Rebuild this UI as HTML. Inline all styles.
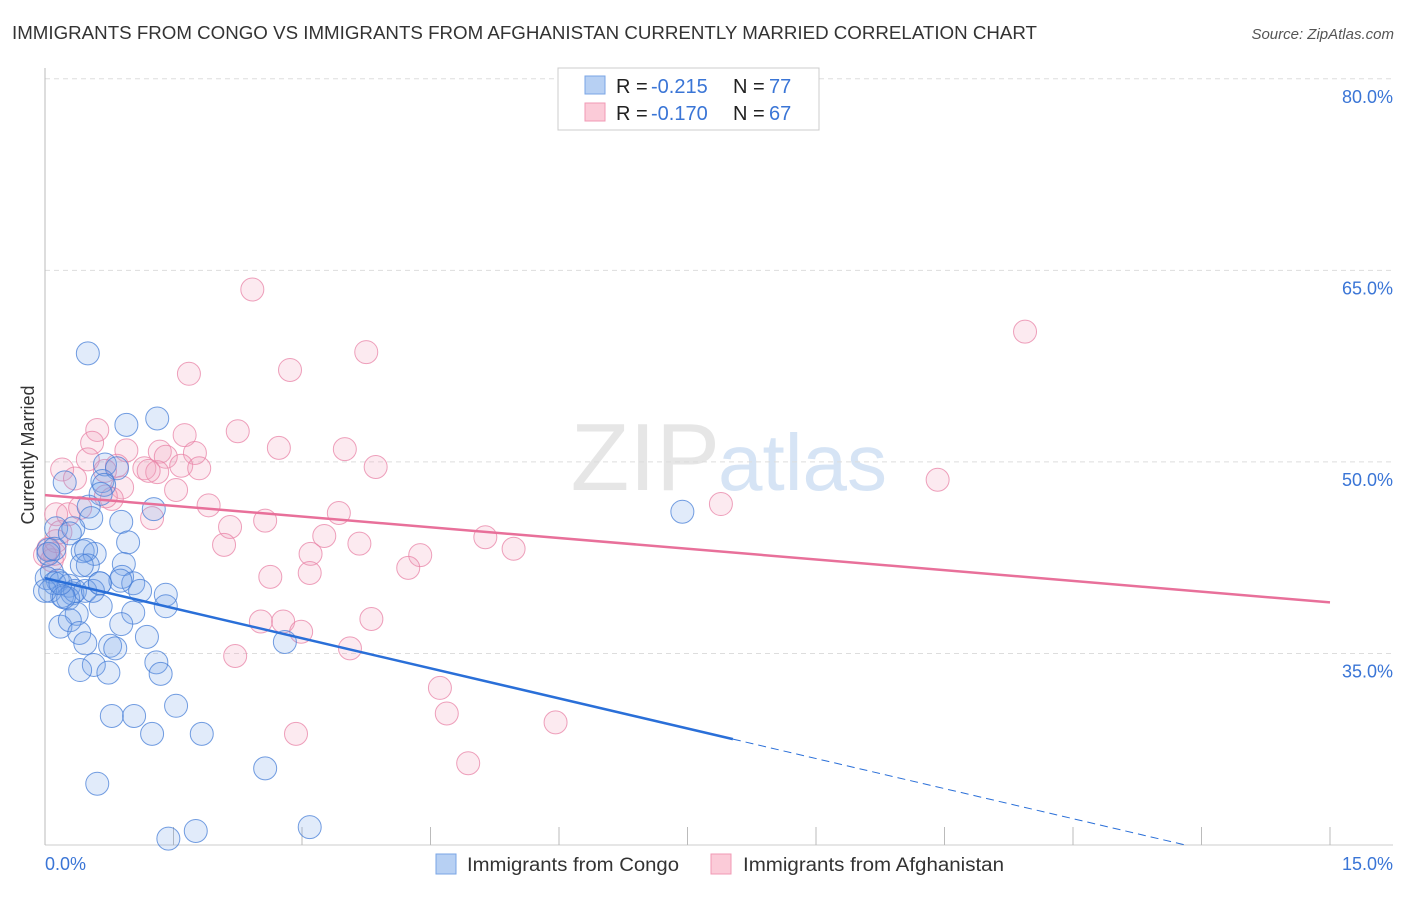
<!DOCTYPE html>
<html><head><meta charset="utf-8"><style>
body{margin:0;background:#fff;font-family:"Liberation Sans",sans-serif}
svg text{font-family:"Liberation Sans",sans-serif}
</style></head><body>
<svg id="c" width="1406" height="892">
<text x="12" y="39" font-size="18" fill="#333" textLength="1025" lengthAdjust="spacingAndGlyphs">IMMIGRANTS FROM CONGO VS IMMIGRANTS FROM AFGHANISTAN CURRENTLY MARRIED CORRELATION CHART</text>
<text x="1394" y="39" font-size="15" fill="#555" font-style="italic" text-anchor="end">Source: ZipAtlas.com</text>
<text x="720" y="490" font-size="96" fill="#e6e6e6" text-anchor="end" font-family="Liberation Serif">ZIP</text>
<text x="718" y="490" font-size="80" fill="#d6e4f5">atlas</text>
<g id="grid"></g><g id="pts"></g><g id="trend"></g>
<text x="34" y="455" font-size="18" fill="#333" text-anchor="middle" transform="rotate(-90 34 455)">Currently Married</text>
<g>
<rect x="558" y="68" width="261" height="62" fill="#fff" stroke="#ccc"/>
<rect x="585" y="76" width="20" height="18" fill="#b7d0f3" stroke="#7aa5e6"/>
<rect x="585" y="103" width="20" height="18" fill="#fbcbd8" stroke="#f09ab4"/>
<text x="616" y="93" font-size="20" fill="#222">R =</text>
<text x="651" y="93" font-size="20" fill="#3a75d6">-0.215</text>
<text x="733" y="93" font-size="20" fill="#222">N =</text>
<text x="769" y="93" font-size="20" fill="#3a75d6">77</text>
<text x="616" y="120" font-size="20" fill="#222">R =</text>
<text x="651" y="120" font-size="20" fill="#3a75d6">-0.170</text>
<text x="733" y="120" font-size="20" fill="#222">N =</text>
<text x="769" y="120" font-size="20" fill="#3a75d6">67</text>
</g>
<g>
<rect x="436" y="854" width="20" height="20" fill="#b7d0f3" stroke="#7aa5e6"/>
<text x="467" y="871" font-size="19" fill="#333" textLength="212" lengthAdjust="spacingAndGlyphs">Immigrants from Congo</text>
<rect x="711" y="854" width="20" height="20" fill="#fbcbd8" stroke="#f09ab4"/>
<text x="743" y="871" font-size="19" fill="#333" textLength="261" lengthAdjust="spacingAndGlyphs">Immigrants from Afghanistan</text>
</g>
</svg>
<script>
const yTicks=[35,50,65,80];
const yTickLabels=["35.0%","50.0%","65.0%","80.0%"];
const xTicks=[0,1.5,3,4.5,6,7.5,9,10.5,12,13.5,15];
const xEndLabels=["0.0%","15.0%"];
const congoX=[0.50,1.31,0.95,0.70,0.84,0.23,0.67,0.69,0.65,0.51,1.27,0.54,0.89,0.13,0.33,0.29,0.97,0.04,0.44,0.58,0.48,0.92,0.50,0.43,0.08,0.02,0.15,0.90,1.03,0.11,0.28,0.64,0.06,0.20,0.32,0.35,1.41,0.27,0.65,1.41,1.03,0.37,0.89,0.18,0.29,0.40,1.19,0.47,0.76,0.82,1.30,1.35,0.57,0.41,0.74,1.53,0.78,1.04,1.25,1.83,0.61,2.57,1.44,1.76,3.09,2.80,7.44,0.04,0.00,0.47,0.22,0.11,0.88,0.18,0.56,1.11,0.64];
const congoY=[58.5,53.4,52.9,49.8,49.5,48.4,48.5,48.2,47.5,46.5,46.3,45.6,45.3,44.8,44.8,44.4,43.7,43.1,43.0,42.8,43.1,42.0,41.9,41.9,41.4,40.9,40.7,41.0,40.5,40.5,40.3,40.5,39.9,39.5,39.7,39.9,39.6,39.3,38.7,38.7,38.2,38.1,37.3,37.1,37.6,36.6,36.3,35.8,35.6,35.4,34.3,33.4,34.1,33.7,33.5,30.9,30.1,30.1,28.7,28.7,24.8,26.0,20.5,21.1,21.4,35.9,46.1,42.8,39.9,39.9,39.4,43.2,40.7,40.5,39.9,39.9,40.5];
const afgX=[2.42,11.44,3.75,1.68,2.86,2.25,0.61,0.55,1.63,0.95,2.73,3.50,1.34,1.41,1.75,0.20,0.50,0.84,1.16,1.59,1.80,3.86,1.31,1.21,0.35,0.70,10.42,0.90,1.53,0.78,0.71,1.91,7.89,0.13,0.27,0.41,1.25,2.57,3.43,2.16,0.18,3.26,5.14,2.09,3.67,5.47,3.10,4.38,4.24,0.11,0.08,2.63,3.09,2.52,2.78,3.81,2.99,2.22,3.56,4.61,4.69,5.96,2.93,4.94,0.04,0.00,0.13];
const afgY=[63.5,60.2,58.6,56.9,57.2,52.4,52.5,51.5,52.1,50.9,51.1,51.0,50.8,50.4,50.7,49.4,50.2,49.7,49.5,49.7,49.5,49.6,49.2,49.3,48.7,49.3,48.6,48.0,47.8,47.1,47.3,46.6,46.7,45.9,45.9,46.4,45.6,45.4,46.0,44.9,44.5,44.2,44.1,43.5,43.6,43.2,42.8,42.7,41.7,42.8,42.3,41.0,41.3,37.5,37.5,37.7,36.7,34.8,35.4,32.3,30.3,29.6,28.7,26.4,43.2,42.7,43.8];
const congoTrend=[40.9,-1.57];
const afgTrend=[47.4,-0.56];
const NS='http://www.w3.org/2000/svg';
const X0=45,X1=1330,Y0=845,YMIN=20,YPX=12.77;
const sx=v=>X0+(X1-X0)*v/15;
const sy=v=>Y0-(v-YMIN)*YPX;
function mk(tag,attrs,parent,txt){const e=document.createElementNS(NS,tag);for(const k in attrs)e.setAttribute(k,attrs[k]);if(txt!==undefined)e.textContent=txt;parent.appendChild(e);return e;}
const grid=document.getElementById('grid');
yTicks.forEach((t,i)=>{
 const l=mk('line',{x1:X0,x2:1393,y1:sy(t),y2:sy(t),stroke:'#ddd','stroke-dasharray':'5,4'},grid);
 
 
 const tx=mk('text',{x:1393,y:sy(t)+24,'font-size':18,fill:'#3a75d6','text-anchor':'end'},grid,yTickLabels[i]);
 
 
});
const ax=mk('line',{x1:X0,x2:X0,y1:68,y2:Y0,stroke:'#bbb'},grid);


const bx=mk('line',{x1:X0,x2:1393,y1:Y0,y2:Y0,stroke:'#ccc'},grid);


xTicks.forEach(t=>{
 const l=mk('line',{x1:sx(t),x2:sx(t),y1:Y0-18,y2:Y0,stroke:'#bbb'},grid);
 
 
});
const xl0=mk('text',{x:45,y:870,'font-size':18,fill:'#3a75d6'},grid,xEndLabels[0]);


const xl1=mk('text',{x:1393,y:870,'font-size':18,fill:'#3a75d6','text-anchor':'end'},grid,xEndLabels[1]);


const pts=document.getElementById('pts');
function series(xs,ys,fill,stroke,name){xs.forEach((x,i)=>{
 const c=mk('circle',{cx:sx(x),cy:sy(ys[i]),r:11.5,fill:fill,stroke:stroke,'stroke-width':1},pts);
 
 
});}
series(afgX,afgY,'rgba(243,160,188,0.22)','rgba(232,130,165,0.75)','afghanistan-point');
series(congoX,congoY,'rgba(120,165,230,0.22)','rgba(70,125,215,0.75)','congo-point');
const tr=document.getElementById('trend');
const cy=x=>congoTrend[0]+congoTrend[1]*x;
const ay=x=>afgTrend[0]+afgTrend[1]*x;
const xend=(YMIN-congoTrend[0])/congoTrend[1];
const l1=mk('line',{x1:sx(0),y1:sy(cy(0)),x2:sx(8.03),y2:sy(cy(8.03)),stroke:'#2a6fd8','stroke-width':2.5},tr);


const l2=mk('line',{x1:sx(8.03),y1:sy(cy(8.03)),x2:sx(xend),y2:sy(YMIN),stroke:'#2a6fd8','stroke-width':1,'stroke-dasharray':'8,5'},tr);


const l3=mk('line',{x1:sx(0),y1:sy(ay(0)),x2:sx(15),y2:sy(ay(15)),stroke:'#e8709a','stroke-width':2.5},tr);


</script>
</body></html>
